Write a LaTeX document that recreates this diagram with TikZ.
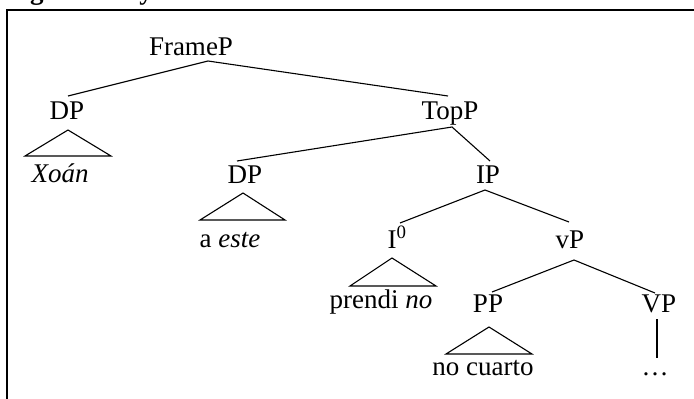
\documentclass[tikz,border=0pt]{standalone}
\usepackage{fontspec}
\setmainfont{Liberation Serif}
\begin{document}
\begin{tikzpicture}[x=1pt,y=-1pt,
  lbl/.style={anchor=base, inner sep=0pt, font=\fontsize{27}{30}\selectfont},
  edge/.style={line width=1.1pt},
  tri/.style={line width=1.1pt, line join=miter}]
\useasboundingbox (0,0) rectangle (694,399);
% frame
\draw[line width=2.2pt] (7,420) -- (7,10) -- (720,10);
% clipped caption fragments
\begin{scope}
\clip (0,0) rectangle (694,6);
\node[lbl, font=\fontsize{27}{30}\selectfont\bfseries] (capg) at (37,-1) {g};
\node[lbl, font=\fontsize{27}{30}\selectfont\bfseries] (capy) at (146,-1) {y};
\end{scope}
% labels
\node[lbl] (FrameP) at (191,55) {FrameP};
\node[lbl] (DPa) at (67,119) {DP};
\node[lbl] (Xoan) at (60,182) {\itshape Xoán};
\node[lbl] (TopP) at (450,119) {TopP};
\node[lbl] (DPb) at (245,183) {DP};
\node[lbl] (aeste) at (230,247) {a \textit{este}};
\node[lbl] (IP) at (488,183) {IP};
\node[lbl] (I0) at (397,248) {I\textsuperscript{0}};
\node[lbl] (vP) at (570,248) {vP};
\node[lbl] (prendi) at (381,308) {prendi \textit{no}};
\node[lbl] (PP) at (488,312) {PP};
\node[lbl] (VP) at (659,312) {VP};
\node[lbl] (cuarto) at (483,375) {no cuarto};
\node[lbl] (dots) at (655,375) {…};
% branch points
\coordinate (FramePb) at (208,61);
\coordinate (DPat) at (68,96);
\coordinate (TopPt) at (448,96);
\coordinate (TopPb) at (452,127);
\coordinate (DPbt) at (237,161);
\coordinate (IPt) at (490,161);
\coordinate (IPb) at (485,190);
\coordinate (I0t) at (400,223);
\coordinate (vPt) at (569,222);
\coordinate (vPb) at (574,260);
\coordinate (PPt) at (492,292);
\coordinate (VPt) at (655,293);
\coordinate (VPb) at (657,319);
\coordinate (dotst) at (657,358);
% edges
\draw[edge] (DPat) -- (FramePb) -- (TopPt);
\draw[edge] (DPbt) -- (TopPb) -- (IPt);
\draw[edge] (I0t) -- (IPb) -- (vPt);
\draw[edge] (PPt) -- (vPb) -- (VPt);
\draw[edge] (VPb) -- (dotst);
% triangles
\draw[tri] (25,156) -- (68,130) -- (111,156) -- cycle;
\draw[tri] (200,220) -- (243,193) -- (285,220) -- cycle;
\draw[tri] (350,286) -- (392,258) -- (436,286) -- cycle;
\draw[tri] (446,354) -- (489,327) -- (532,354) -- cycle;
\end{tikzpicture}
\end{document}
